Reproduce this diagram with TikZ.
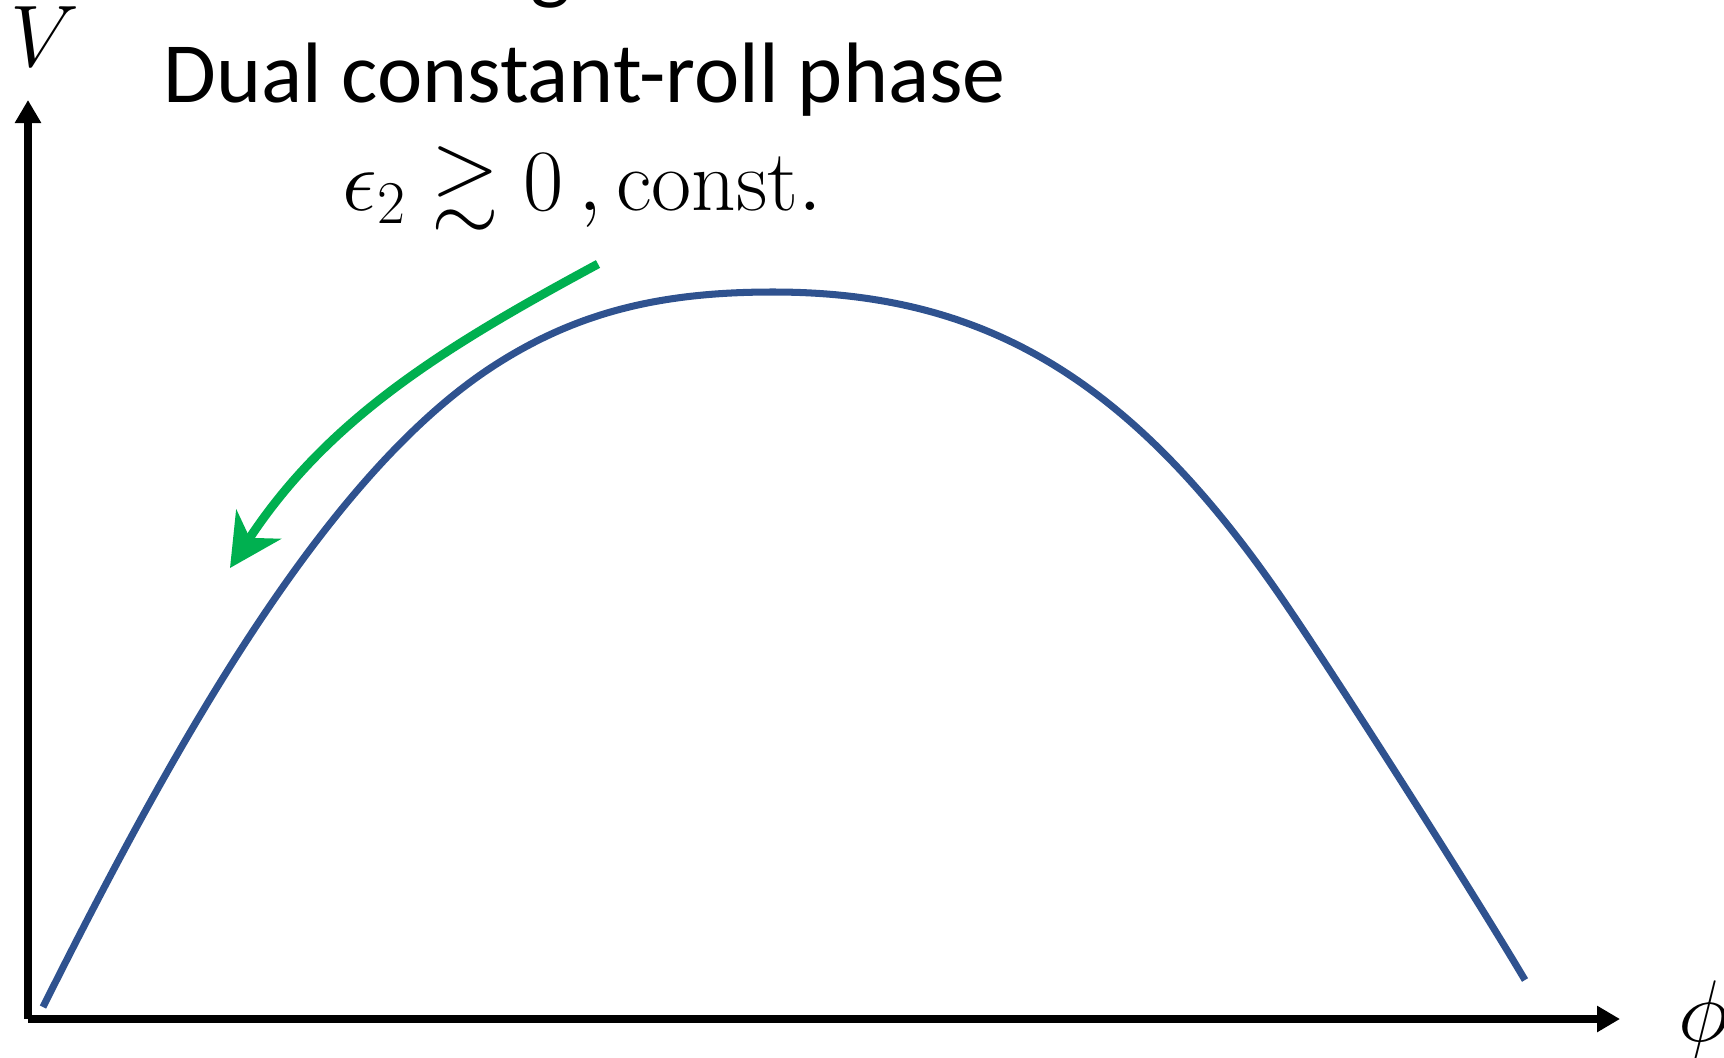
\documentclass[tikz,border=0pt]{standalone}
\usepackage{amsmath,amssymb}
\usepackage{fontspec}
\newfontfamily\slidefont{Carlito}
\usetikzlibrary{arrows.meta}
\definecolor{curveblue}{HTML}{2F528F}
\definecolor{rollgreen}{HTML}{00B050}
\tikzset{
    axis/.style={line width=2.3pt, draw=black, -{Triangle[length=0.23cm, width=0.25cm]}},
    potential/.style={line width=2pt, draw=curveblue},
    rollarrow/.style={line width=2.5pt, draw=rollgreen, -{Stealth[length=0.52cm, width=0.53cm, inset=0.16cm]}},
    bigtext/.style={inner sep=0pt, anchor=base west, font=\fontsize{24}{29}\selectfont},
    mathtext/.style={inner sep=0pt, anchor=base west, font=\fontsize{24.8}{30}\selectfont},
    slidetext/.style={inner sep=0pt, anchor=base west, font=\slidefont\fontsize{24.4}{29}\selectfont}
}
\begin{document}
\begin{tikzpicture}[x=0.01cm, y=-0.01cm]
    \useasboundingbox (0,0) rectangle (1724,1057);
    \coordinate (origin) at (28,1019);
    \coordinate (vend) at (28,100);
    \coordinate (phiend) at (1620,1019);
    \draw[axis] (origin) -- (vend);
    \draw[axis] (origin) -- (phiend);
    \node[bigtext] (vlabel) at (10,66) {$V$};
    \node[bigtext] (philabel) at (1678,1041) {$\phi$};
    \node[slidetext] (cutline) at (530,-7) {g};
    \node[slidetext] (phase) at (163,102) {Dual constant-roll phase};
    \node[mathtext] (epslabel) at (342,210) {$\epsilon_2 \gtrsim 0\,,\mathrm{const.}$};
    \draw[potential] (43,1007) .. controls (177,739) and (327,473) .. (495,365)
        .. controls (579,311) and (663,292) .. (773,292)
        .. controls (983,292) and (1130.5,377.25) .. (1283,600)
        .. controls (1339.5,682.5) and (1474,894) .. (1525,980);
    \draw[rollarrow] (598,264) .. controls (448.4,344.75) and (329,416.8) .. (230,568);
\end{tikzpicture}
\end{document}
